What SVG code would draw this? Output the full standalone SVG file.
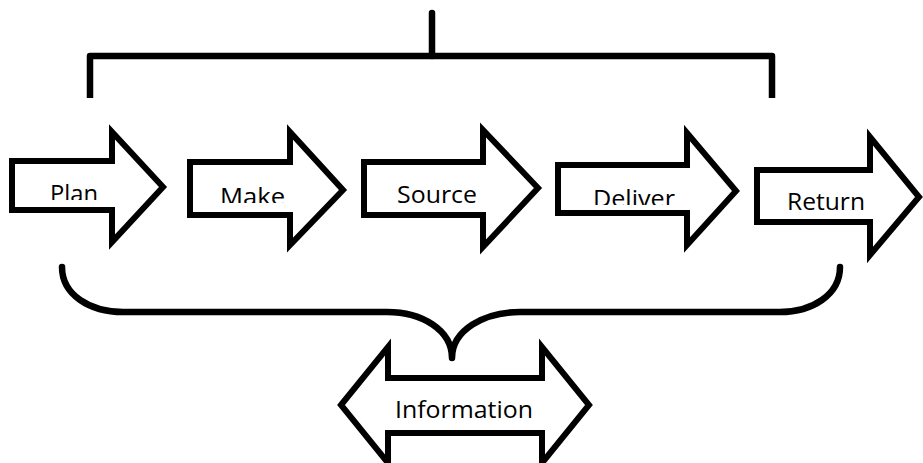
<svg xmlns="http://www.w3.org/2000/svg" width="923" height="463" viewBox="0 0 923 463">
  <style>
    .shape { fill: #ffffff; stroke: #000000; stroke-width: 6; stroke-linejoin: miter; }
    .label { font-family: "Open Sans", "Liberation Sans", sans-serif; font-size: 24px; fill: #000000; }
    .line { fill: none; stroke: #000000; stroke-width: 6.5; }
  </style>
  <defs>
    <clipPath id="clip-plan"><rect x="40" y="170" width="70" height="30"/></clipPath>
    <clipPath id="clip-make"><rect x="210" y="170" width="80" height="33"/></clipPath>
    <clipPath id="clip-deliver"><rect x="585" y="170" width="100" height="35"/></clipPath>
  </defs>
  <rect width="923" height="463" fill="#ffffff"/>

  <!-- connectors: top bracket and bottom brace -->
  <g id="connectors">
    <path class="line" d="M90,98 L90,56 L772,56 L772,98" stroke-linejoin="round"/>
    <path class="line" d="M432,13 L432,56" stroke-linecap="round"/>
    <path class="line" d="M62,267 C62,295 90,312 123,312 L387,312 C422,312 452,330 452,358 C452,330 484,312 520,312 L780,312 C812,312 840,295 840,267" stroke-linecap="round" stroke-linejoin="round"/>
  </g>

  <g id="plan">
    <polygon class="shape" points="12,161 112,161 112,132 163,187 112,242 112,210 12,210"/>
    <text class="label" x="50" y="202" textLength="48" lengthAdjust="spacingAndGlyphs" clip-path="url(#clip-plan)">Plan</text>
  </g>
  <g id="make">
    <polygon class="shape" points="190,162 290,162 290,132 343,190 290,245 290,215 190,215"/>
    <text class="label" x="220" y="205" textLength="65" lengthAdjust="spacingAndGlyphs" clip-path="url(#clip-make)">Make</text>
  </g>
  <g id="source">
    <polygon class="shape" points="364,162 483,162 483,130 538,188 483,247 483,215 364,215"/>
    <text class="label" x="397" y="203" textLength="80" lengthAdjust="spacingAndGlyphs">Source</text>
  </g>
  <g id="deliver">
    <polygon class="shape" points="558,165 687,165 687,133 736,191 687,245 687,213 558,213"/>
    <text class="label" x="593" y="207" textLength="82" lengthAdjust="spacingAndGlyphs" clip-path="url(#clip-deliver)">Deliver</text>
  </g>
  <g id="return">
    <polygon class="shape" points="757,170 870,170 870,137 919,197 870,255 870,222 757,222"/>
    <text class="label" x="787" y="210" textLength="78" lengthAdjust="spacingAndGlyphs">Return</text>
  </g>
  <g id="information">
    <polygon class="shape" points="341,405 388,347 388,378 542,378 542,347 589,405 542,463 542,433 388,433 388,463"/>
    <text class="label" x="395" y="418" textLength="138" lengthAdjust="spacingAndGlyphs">Information</text>
  </g>
</svg>
